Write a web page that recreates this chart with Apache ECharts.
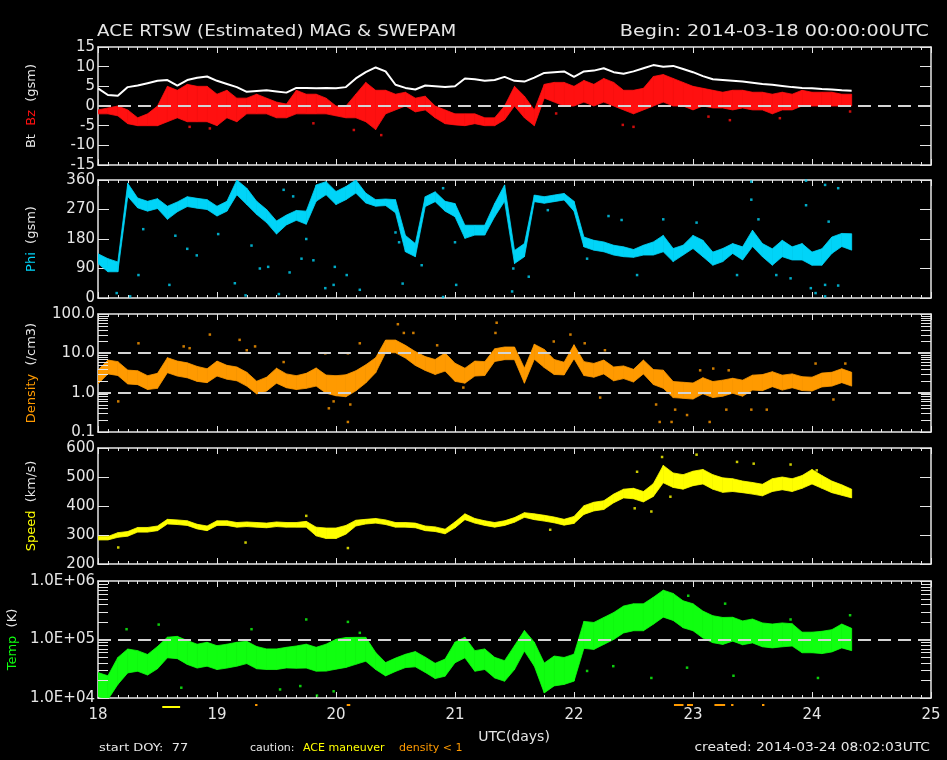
<!DOCTYPE html>
<html>
<head>
<meta charset="utf-8">
<script src="https://cdn.jsdelivr.net/npm/echarts@6/dist/echarts.min.js"></script>
<style>
  html, body { margin: 0; padding: 0; background: #000; }
  #c { width: 947px; height: 760px; }
</style>
</head>
<body>
<div id="c"></div>
<script>
// ACE real-time solar wind, 2-hourly samples from day 18.0 (2014-03-18 00:00 UTC)

// Bt (nT, white line)
const btGsm = [4.5,2.8,2.6,4.8,5.2,5.8,6.4,6.6,5.2,6.6, 7.2,7.5,6.4,5.6,4.8,3.6,3.8,4.0,3.7,3.4,
  4.6,4.6,4.5,4.6,4.5,4.8,7.0,8.6,9.8,8.8, 5.4,4.6,4.2,5.2,5.0,4.8,5.0,7.0,6.8,6.4,
  6.6,7.4,6.4,6.2,7.2,8.4,8.6,8.8,7.4,8.8, 9.0,9.6,8.6,8.2,8.8,9.6,10.4,10.0,10.2,9.4,
  8.6,7.6,6.8,6.6,6.4,6.2,5.9,5.6,5.4,5.1, 4.8,4.6,4.5,4.3,4.2,4.0,3.9];

// Bz (nT): typical value and the range the samples cover
const bzMid = [-1.5,-1.2,-1.5,-3.5,-4,-3.5,-3,0,1,1, 0,1,-1,0,-1,0,0.5,0,-2,-1.5,
  0.5,1,0,0,-1.2,-1.5,0,1,0,1, 1,1.5,0,0.5,-2,-3,-3.5,-4,-3.5,-4,
  -4,-2,2,0,-4,4,3.5,3,2.5,4, 3,4,3.5,1,1.5,1.5,4,5,4,3,
  2,2,1.5,1.5,1,1.5,1,1.5,0.5,1, 0.5,2,2,1.5,2,2,1.5];
const bzLo = [-2,-2,-2.5,-4.5,-5,-5,-5,-4,-3,-4, -4,-4,-5,-3,-4,-2,-2,-2,-3,-3,
  -2,-2,-2,-2,-2.5,-3,-3,-4,-6,-2, -1,0,-1.5,-1,-3,-4.5,-4.8,-5,-4.5,-5,
  -5,-3.5,0,-3,-5,2,1,0,0,1, 0,1,0,-1,-2,-1,0,1,0,0,
  -1,0,-0.5,-0.5,-1,-0.5,-1,-1,-2,-1, -1,0,0,0,0,0,0];
const bzHi = [-1,-0.5,0,-1,-3,-2,0,5,4,5.5, 5,5,3,4,2,2,3,2,1,0.5,
  4,3,3,2,0,0,3,6,4,4, 3,3.5,2,2.5,0,-1,-2,-2,-2,-3,
  -3,0,5,2.5,-1,5.5,6,6,5,6.5, 5.5,7,6,4,4,4.5,7.5,8,7,6,
  5,4.5,4,3.5,4,4,3.5,3.5,3,3.5, 3,4,3.5,3.5,3.5,3,3];
const bzScatter = [[20.38,-7.4],[20.15,-6.1],[18.94,-5.7],[19.81,-4.4],[18.77,-5.3],
  [22.41,-4.8],[22.5,-5.3],[21.85,-1.9],[23.13,-2.7],[23.31,-3.6],[23.73,-3.1],[24.32,-1.4]];

// Phi (deg GSM) and half-width of the sample spread
const phiMid = [120,100,95,330,290,280,288,260,278,294, 289,285,265,280,340,310,275,250,215,238,
  252,245,320,335,305,320,340,305,290,292, 280,166,146,294,309,280,268,202,207,207,
  268,320,125,146,304,299,304,309,280,171, 161,156,146,141,136,146,151,166,131,146,
  171,151,120,131,151,136,182,146,125,151, 136,141,120,125,161,177,171];
const phiSpread = [15,20,15,20,15,15,15,20,15,15, 15,15,15,15,25,25,20,20,20,15,
  15,20,25,20,20,20,20,15,10,10, 20,25,20,15,15,15,20,20,15,15,
  20,25,20,20,10,10,10,10,15,15, 15,15,15,15,12,15,20,25,20,15,
  20,25,20,20,15,20,25,20,25,25, 20,25,20,25,25,20,25];
const phiScatter = [[18.157,15],[18.27,5],[18.34,70],[18.38,210],[18.6,40],[18.65,190],[18.75,150],
  [18.83,130],[19.01,195],[19.15,45],[19.24,8],[19.29,160],[19.36,90],[19.43,95],[19.52,12],
  [19.56,330],[19.61,78],[19.64,310],[19.71,120],[19.75,180],[19.81,115],[19.91,30],[19.98,40],
  [19.99,95],[20.09,70],[20.2,25],[20.5,200],[20.53,170],[20.56,44],[20.72,100],[20.9,335],
  [20.9,3],[21.0,170],[21.01,40],[21.48,20],[21.49,90],[21.62,65],[21.78,268],[22.11,120],
  [22.29,250],[22.4,238],[22.53,70],[22.75,240],[23.03,230],[23.37,70],[23.49,355],[23.49,300],
  [23.55,240],[23.7,70],[23.82,60],[23.95,358],[23.95,283],[23.99,30],[24.03,15],[24.11,40],
  [24.11,5],[24.11,345],[24.14,233],[24.22,335],[24.22,38]];

// Proton density (/cm3) and multiplicative spread
const densMid = [2.5,4.5,4.1,2.5,2.4,1.8,2.0,5.0,4.1,3.7, 3.0,2.7,4.1,3.3,3.0,2.2,1.35,1.65,2.7,2.0,
  1.8,2.0,2.5,1.65,1.5,1.5,2.0,3.0,5.0,15, 15,11,7.4,5.5,4.5,6,3.3,2.7,4.1,4.1,
  9,10,10,2.7,11,7.4,4.5,4.1,11,4.1, 3.7,4.5,3.0,3.3,2.7,4.5,2.5,2.2,1.2,1.15,
  1.1,1.5,1.2,1.3,1.5,1.3,1.8,1.8,2.2,1.8, 2.0,1.7,1.65,2.1,2.2,2.7,2.2];
const densSpread = [1.5,1.5,1.5,1.5,1.5,1.5,1.55,1.55,1.55,1.55, 1.55,1.5,1.55,1.5,1.5,1.5,1.45,1.5,1.55,1.5,
  1.5,1.55,1.7,1.7,1.8,1.9,1.8,1.7,1.55,1.45, 1.45,1.45,1.5,1.5,1.55,1.7,1.7,1.55,1.55,1.5,
  1.45,1.45,1.45,1.55,1.55,1.7,1.55,1.45,1.5,1.5, 1.5,1.5,1.5,1.45,1.45,1.5,1.55,1.7,1.6,1.6,
  1.6,1.6,1.6,1.6,1.55,1.6,1.55,1.6,1.55,1.55, 1.5,1.5,1.5,1.5,1.5,1.5,1.5];
const densScatter = [[18.34,18],[18.17,0.6],[18.72,15],[18.77,13.5],[18.94,30],[19.19,22],[19.25,12],
  [19.32,15],[19.56,6],[19.91,10],[19.94,0.4],[19.98,0.6],[20.1,0.18],[20.1,10],[20.12,0.5],
  [20.2,18],[20.52,55],[20.57,33],[20.65,33],[20.85,16],[21.07,1.35],[21.35,60],[21.34,33],
  [21.83,20],[21.97,30],[22.09,18],[22.26,12],[22.22,0.75],[22.69,0.5],[22.72,0.18],[22.82,0.18],
  [22.85,0.37],[22.95,0.27],[23.06,3.7],[23.14,0.18],[23.17,4.1],[23.28,0.37],[23.3,3.7],
  [23.49,0.37],[23.62,0.37],[24.03,5.5],[24.18,0.67],[24.28,5.5]];

// Bulk speed (km/s) and half-width of the spread
const speedMid = [289,289,300,304,318,318,323,346,344,341, 329,323,341,341,335,337,335,333,337,335,
  335,337,312,306,306,318,341,346,349,344, 335,335,333,323,320,312,335,363,349,341,
  335,341,352,369,363,358,352,344,352,386, 398,403,426,443,443,432,455,510,489,483,
  495,501,483,472,472,466,461,455,472,478, 472,483,501,483,466,455,443];
const speedSpread = [6,6,8,8,8,8,8,8,8,8, 8,8,8,8,8,8,8,8,8,8,
  8,10,15,18,18,15,10,8,8,8, 8,8,8,8,8,8,10,10,8,8,
  8,8,8,8,10,10,10,10,12,15, 15,15,15,15,18,18,22,30,25,25,
  25,25,25,25,22,20,20,20,22,22, 22,22,25,22,20,18,15];
const speedScatter = [[18.17,257],[19.24,274],[20.1,255],[19.75,366],[23.03,577],[22.74,569],
  [23.37,552],[23.51,546],[23.82,543],[22.81,432],[22.65,381],[22.51,392],[21.8,318],
  [22.53,518],[24.04,523]];

// Proton temperature (K) and multiplicative spread
const tempMid = [1.7e4,1.5e4,2.9e4,4.3e4,4.3e4,3.7e4,4.9e4,7.3e4,7.3e4,6e4, 5.2e4,5.6e4,4.9e4,5.2e4,5.6e4,6e4,4.9e4,4.6e4,4.6e4,4.9e4,
  5e4,5.2e4,4.6e4,4.9e4,5.6e4,6e4,6.4e4,6.8e4,4.3e4,3.1e4, 3.7e4,4.3e4,4.6e4,3.7e4,2.9e4,3.3e4,6e4,7.3e4,4.3e4,4.6e4,
  3.3e4,2.9e4,4.9e4,9.5e4,5.6e4,2.2e4,2.9e4,2.9e4,3.3e4,1.2e5, 1.15e5,1.4e5,1.7e5,2.2e5,2.4e5,2.4e5,3.1e5,4.1e5,3.6e5,2.7e5,
  2.4e5,1.8e5,1.5e5,1.4e5,1.5e5,1.3e5,1.4e5,1.2e5,1.15e5,1.2e5, 1.2e5,8.9e4,8.9e4,8.9e4,9.5e4,1.15e5,1e5];
const tempSpread = [1.6,1.6,1.7,1.6,1.5,1.5,1.55,1.5,1.55,1.6, 1.6,1.6,1.6,1.6,1.6,1.55,1.55,1.5,1.5,1.5,
  1.55,1.6,1.6,1.7,1.8,1.8,1.7,1.6,1.4,1.3, 1.3,1.3,1.35,1.35,1.35,1.4,1.5,1.5,1.5,1.5,
  1.5,1.5,1.6,1.5,1.6,1.8,1.8,1.7,1.7,1.7, 1.7,1.7,1.7,1.7,1.7,1.7,1.7,1.7,1.7,1.7,
  1.7,1.7,1.7,1.7,1.6,1.6,1.6,1.6,1.6,1.6, 1.55,1.5,1.5,1.55,1.55,1.6,1.55];
const tempScatter = [[18.24,1.5e5],[18.51,1.8e5],[19.29,1.5e5],[19.75,2.2e5],[20.1,2e5],[20.2,1.3e5],
  [18.7,1.5e4],[19.7,1.6e4],[19.98,1.3e4],[19.84,1.1e4],[19.53,1.4e4],[22.75,5.3e5],[22.96,5.6e5],
  [23.27,4.1e5],[22.65,2.2e4],[23.34,2.4e4],[22.95,3.3e4],[23.82,2.2e5],[24.05,2.2e4],
  [24.32,2.6e5],[22.11,2.9e4],[22.33,3.5e4]];

// Quality flags drawn under the bottom panel: [start day, end day]
const maneuverSpans = [[18.54,18.69]];
const lowDensitySpans = [[19.32,19.34],[20.09,20.12],[22.84,22.92],[22.95,23.0],[23.18,23.27],[23.32,23.34],[23.58,23.6]];

// Axis tick labels
const dayTicks = [18,19,20,21,22,23,24,25];

const FONT = 'DejaVu Sans';
const FG = '#e6e6e6';
const C_RED = '#ff1010', C_CYAN = '#00d4f8', C_ORANGE = '#ff9a00', C_YELLOW = '#ffff00', C_GREEN = '#10ff10';

const hours = btGsm.map((_, k) => 18 + k / 12);

function bandItems(lo, hi) {
  const out = [];
  for (let i = 0; i < lo.length - 1; i++) {
    out.push([hours[i], lo[i], hi[i], hours[i + 1], lo[i + 1], hi[i + 1]]);
  }
  return out;
}
const addSpread = (mid, s) => [mid.map((v, i) => v - s[i]), mid.map((v, i) => v + s[i])];
const mulSpread = (mid, f) => [mid.map((v, i) => v / f[i]), mid.map((v, i) => v * f[i])];

function renderBand(params, api) {
  const c = api.visual('color');
  const a = api.coord([api.value(0), api.value(1)]);
  const b = api.coord([api.value(0), api.value(2)]);
  const d = api.coord([api.value(3), api.value(5)]);
  const e = api.coord([api.value(3), api.value(4)]);
  return { type: 'polygon', shape: { points: [a, b, d, e] },
    style: { fill: c, stroke: c, lineWidth: 0.8 } };
}
function renderDash(params, api) {
  const cs = params.coordSys;
  const y = Math.round(api.coord([api.value(0), api.value(1)])[1]);
  return { type: 'line', shape: { x1: cs.x, y1: y, x2: cs.x + cs.width, y2: y },
    style: { stroke: '#d4d4d4', lineWidth: 2, lineDash: [13, 7] } };
}
function renderLogMinor(params, api) {
  const cs = params.coordSys;
  const y = Math.round(api.coord([api.value(0), api.value(1)])[1]) + 0.5;
  return { type: 'group', children: [
    { type: 'line', shape: { x1: cs.x, y1: y, x2: cs.x + 10, y2: y }, style: { stroke: FG, lineWidth: 1 } },
    { type: 'line', shape: { x1: cs.x + cs.width - 10, y1: y, x2: cs.x + cs.width, y2: y }, style: { stroke: FG, lineWidth: 1 } }
  ] };
}
function renderFlag(offset) {
  return function (params, api) {
    const cs = params.coordSys;
    const x0 = api.coord([api.value(0), 1e5])[0];
    const x1 = api.coord([api.value(1), 1e5])[0];
    return { type: 'rect', shape: { x: x0, y: cs.y + cs.height + offset, width: Math.max(2, x1 - x0), height: 2 },
      style: { fill: api.visual('color') } };
  };
}
function logMinorValues(min, max) {
  const out = [];
  for (let d = min; d < max; d *= 10) for (let m = 2; m <= 9; m++) out.push([18, d * m]);
  return out;
}

const grids = [
  { top: 47, height: 118 }, { top: 180, height: 118 }, { top: 314, height: 118 },
  { top: 448, height: 116 }, { top: 581, height: 117 }
].map(g => ({ left: 98, right: 16, top: g.top, height: g.height, outerBoundsMode: 'none' }));

const nameStyle = (rich) => ({ fontFamily: FONT, fontSize: 13, color: FG, rich });
const rt = (color) => ({ color, fontFamily: FONT, fontSize: 13 });

const panels = [
  { type: 'value', min: -15, max: 15, interval: 5,
    name: '{w|Bt}  {r|Bz}  {w|(gsm)}', rich: { w: rt(FG), r: rt(C_RED) } },
  { type: 'value', min: 0, max: 360, interval: 90,
    name: '{c|Phi}  {w|(gsm)}', rich: { w: rt(FG), c: rt(C_CYAN) } },
  { type: 'log', min: 0.1, max: 100, fmt: v => Number(v).toFixed(1),
    name: '{o|Density}  {w|(/cm3)}', rich: { w: rt(FG), o: rt(C_ORANGE) } },
  { type: 'value', min: 200, max: 600, interval: 100,
    name: '{y|Speed}  {w|(km/s)}', rich: { w: rt(FG), y: rt(C_YELLOW) } },
  { type: 'log', min: 1e4, max: 1e6,
    fmt: v => '1.0E+' + String(Math.round(Math.log10(v))).padStart(2, '0'),
    name: '{g|Temp}  {w|(K)}', rich: { w: rt(FG), g: rt(C_GREEN) } }
];

const xAxes = [], yAxes = [];
grids.forEach((g, i) => {
  const last = i === grids.length - 1;
  const xb = {
    gridIndex: i, type: 'value', min: 18, max: 25, interval: 1,
    axisLine: { onZero: false, lineStyle: { color: FG, width: 1.5 } },
    axisTick: { inside: true, length: 6, lineStyle: { color: FG } },
    minorTick: { show: true, splitNumber: 12, length: 3, lineStyle: { color: FG } },
    splitLine: { show: false }, minorSplitLine: { show: false }
  };
  xAxes.push(Object.assign({}, xb, { position: 'bottom',
    axisLabel: { show: last, color: FG, fontFamily: FONT, fontSize: 15, margin: 10,
      formatter: v => dayTicks.includes(v) ? String(v) : '' } }));
  xAxes.push(Object.assign({}, xb, { position: 'top', axisLabel: { show: false } }));

  const p = panels[i];
  const yb = {
    gridIndex: i, type: p.type, min: p.min, max: p.max,
    axisLine: { onZero: false, lineStyle: { color: FG, width: 1.5 } },
    axisTick: { inside: true, length: 11, lineStyle: { color: FG } },
    splitLine: { show: false }
  };
  if (p.interval) yb.interval = p.interval;
  if (p.type === 'log') { yb.logBase = 10; }
  yAxes.push(Object.assign({}, yb, { position: 'left',
    axisLabel: { color: FG, fontFamily: FONT, fontSize: 15, margin: 3, showMinLabel: true, showMaxLabel: true,
      formatter: p.fmt || (v => String(v)) },
    name: p.name, nameLocation: 'middle', nameRotate: 90, nameGap: 60,
    nameTextStyle: nameStyle(p.rich) }));
  yAxes.push(Object.assign({}, yb, { position: 'right', axisLabel: { show: false } }));
});

const [phiLo, phiHi] = addSpread(phiMid, phiSpread);
const [densLo, densHi] = mulSpread(densMid, densSpread);
const [speedLo, speedHi] = addSpread(speedMid, speedSpread);
const [tempLo, tempHi] = mulSpread(tempMid, tempSpread);

const band = (g, lo, hi, color) => ({
  type: 'custom', xAxisIndex: 2 * g, yAxisIndex: 2 * g, renderItem: renderBand,
  data: bandItems(lo, hi), encode: { x: [0, 3], y: [1, 2, 4, 5] },
  itemStyle: { color }, clip: true, silent: true, z: 2
});
const dots = (g, data, color) => ({
  type: 'scatter', xAxisIndex: 2 * g, yAxisIndex: 2 * g, data, symbol: 'rect', symbolSize: 2.5,
  itemStyle: { color }, silent: true, z: 2
});
const dashes = (g, values) => ({
  type: 'custom', xAxisIndex: 2 * g, yAxisIndex: 2 * g, renderItem: renderDash,
  data: values.map(v => [18, v]), encode: { x: 0, y: 1 }, silent: true, z: 5
});
const minors = (g, min, max) => ({
  type: 'custom', xAxisIndex: 2 * g, yAxisIndex: 2 * g, renderItem: renderLogMinor,
  data: logMinorValues(min, max), encode: { x: 0, y: 1 }, silent: true, z: 6
});
const flags = (spans, color, offset) => ({
  type: 'custom', xAxisIndex: 8, yAxisIndex: 8, renderItem: renderFlag(offset),
  data: spans, encode: { x: [0, 1] }, itemStyle: { color }, clip: false, silent: true, z: 6
});

const series = [
  band(0, bzLo, bzHi, C_RED),
  dots(0, bzScatter, C_RED),
  { type: 'line', xAxisIndex: 0, yAxisIndex: 0, data: hours.map((t, i) => [t, btGsm[i]]),
    showSymbol: false, lineStyle: { color: '#ffffff', width: 2 }, silent: true, z: 4 },
  dashes(0, [0]),
  band(1, phiLo.map(v => Math.max(0, v)), phiHi.map(v => Math.min(360, v)), C_CYAN),
  dots(1, phiScatter, C_CYAN),
  band(2, densLo, densHi, C_ORANGE),
  dots(2, densScatter, C_ORANGE),
  dashes(2, [1, 10]),
  minors(2, 0.1, 100),
  band(3, speedLo, speedHi, C_YELLOW),
  dots(3, speedScatter, C_YELLOW),
  band(4, tempLo, tempHi, C_GREEN),
  dots(4, tempScatter, C_GREEN),
  dashes(4, [1e5]),
  minors(4, 1e4, 1e6),
  flags(maneuverSpans, C_YELLOW, 8),
  flags(lowDensitySpans, C_ORANGE, 6)
];

// Text blocks; the wide stroke lettering is approximated with a horizontal stretch
const txt = (x, y, text, opts, sx) => ({
  type: 'text', x, y, silent: true, scaleX: sx || 1,
  style: Object.assign({ text, fill: FG, fontFamily: FONT, fontSize: 12, textVerticalAlign: 'middle' }, opts || {})
});

const graphic = [
  txt(97, 32, 'ACE RTSW (Estimated) MAG & SWEPAM', { fontSize: 16 }, 1.14),
  txt(929, 32, 'Begin: 2014-03-18 00:00:00UTC', { fontSize: 16, textAlign: 'right' }, 1.2),
  txt(514, 737, 'UTC(days)', { fontSize: 14, textAlign: 'center' }),
  txt(99, 748, 'start DOY:  77', { fontSize: 11 }, 1.18),
  txt(250, 748, 'caution:', { fontSize: 11 }),
  txt(303, 748, 'ACE maneuver', { fontSize: 11, fill: C_YELLOW }),
  txt(399, 748, 'density < 1', { fontSize: 11, fill: C_ORANGE }),
  txt(930, 748, 'created: 2014-03-24 08:02:03UTC', { fontSize: 12, textAlign: 'right' }, 1.15)
];

const chart = echarts.init(document.getElementById('c'), null, { renderer: 'canvas' });
chart.setOption({
  backgroundColor: '#000',
  animation: false,
  grid: grids,
  xAxis: xAxes,
  yAxis: yAxes,
  series,
  graphic
});
</script>
</body>
</html>
